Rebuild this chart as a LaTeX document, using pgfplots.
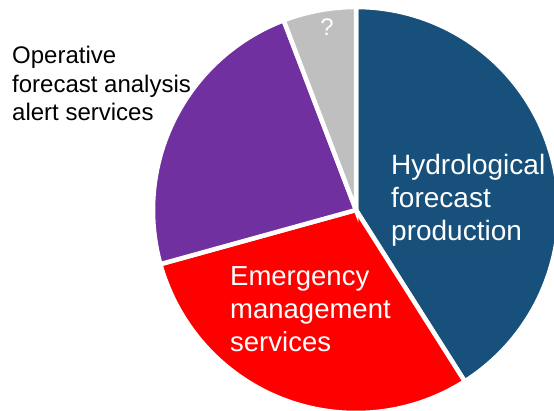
\documentclass[border=0pt]{standalone}
\usepackage{pgfplots}
\pgfplotsset{compat=1.18}
\usepackage{pgfplotstable}
\usepackage{fontspec}
\setmainfont{Liberation Sans}
\definecolor{hydro}{HTML}{17507B}
\definecolor{emerg}{HTML}{FF0000}
\definecolor{oper}{HTML}{7030A0}
\definecolor{unkn}{HTML}{BFBFBF}
\pgfplotstableread{
label value
Hydrological 41.0
Emergency 29.7
Operative 23.5
Unknown 5.8
}\piedata
\pgfplotstablegetelem{0}{value}\of\piedata \let\vA\pgfplotsretval
\pgfplotstablegetelem{1}{value}\of\piedata \let\vB\pgfplotsretval
\pgfplotstablegetelem{2}{value}\of\piedata \let\vC\pgfplotsretval
\pgfplotstablegetelem{3}{value}\of\piedata \let\vD\pgfplotsretval
\pgfmathsetmacro\aA{90}
\pgfmathsetmacro\aB{\aA-3.6*\vA}
\pgfmathsetmacro\aC{\aB-3.6*\vB}
\pgfmathsetmacro\aD{\aC-3.6*\vC}
\pgfmathsetmacro\aE{\aD-3.6*\vD}
\def\cx{356}
\def\cy{-210}
\def\rr{203}
\begin{document}
\begin{tikzpicture}
\begin{axis}[
  scale only axis, width=554bp, height=411bp,
  xmin=0, xmax=554, ymin=-411, ymax=0,
  hide axis,
]
\addplot[fill=hydro, draw=white, line width=4.5bp, domain=\aB:\aA, samples=90]
  ({\cx+\rr*cos(x)},{\cy+\rr*sin(x)}) -- (axis cs:\cx,\cy) -- cycle;
\addplot[fill=emerg, draw=white, line width=4.5bp, domain=\aC:\aB, samples=90]
  ({\cx+\rr*cos(x)},{\cy+\rr*sin(x)}) -- (axis cs:\cx,\cy) -- cycle;
\addplot[fill=oper, draw=white, line width=4.5bp, domain=\aD:\aC, samples=90]
  ({\cx+\rr*cos(x)},{\cy+\rr*sin(x)}) -- (axis cs:\cx,\cy) -- cycle;
\addplot[fill=unkn, draw=white, line width=4.5bp, domain=\aE:\aD, samples=40]
  ({\cx+\rr*cos(x)},{\cy+\rr*sin(x)}) -- (axis cs:\cx,\cy) -- cycle;
\node[anchor=north west, align=left, inner sep=0pt, text=white,
  font=\fontsize{28bp}{33bp}\selectfont] at (axis cs:391,-154) {Hydrological\\forecast\\production};
\node[anchor=north west, align=left, inner sep=0pt, text=white,
  font=\fontsize{27.5bp}{33bp}\selectfont] at (axis cs:230,-266) {Emergency\\management\\services};
\node[anchor=north west, align=left, inner sep=0pt, text=black,
  font=\fontsize{24bp}{28.5bp}\selectfont] at (axis cs:12,-46) {Operative\\forecast analysis\\alert services};
\node[anchor=center, inner sep=0pt, text=white,
  font=\fontsize{24bp}{28bp}\selectfont] at (axis cs:327,-27) {?};
\end{axis}
\pgfresetboundingbox
\useasboundingbox (current axis.south west) rectangle (current axis.north east);
\end{tikzpicture}
\end{document}
